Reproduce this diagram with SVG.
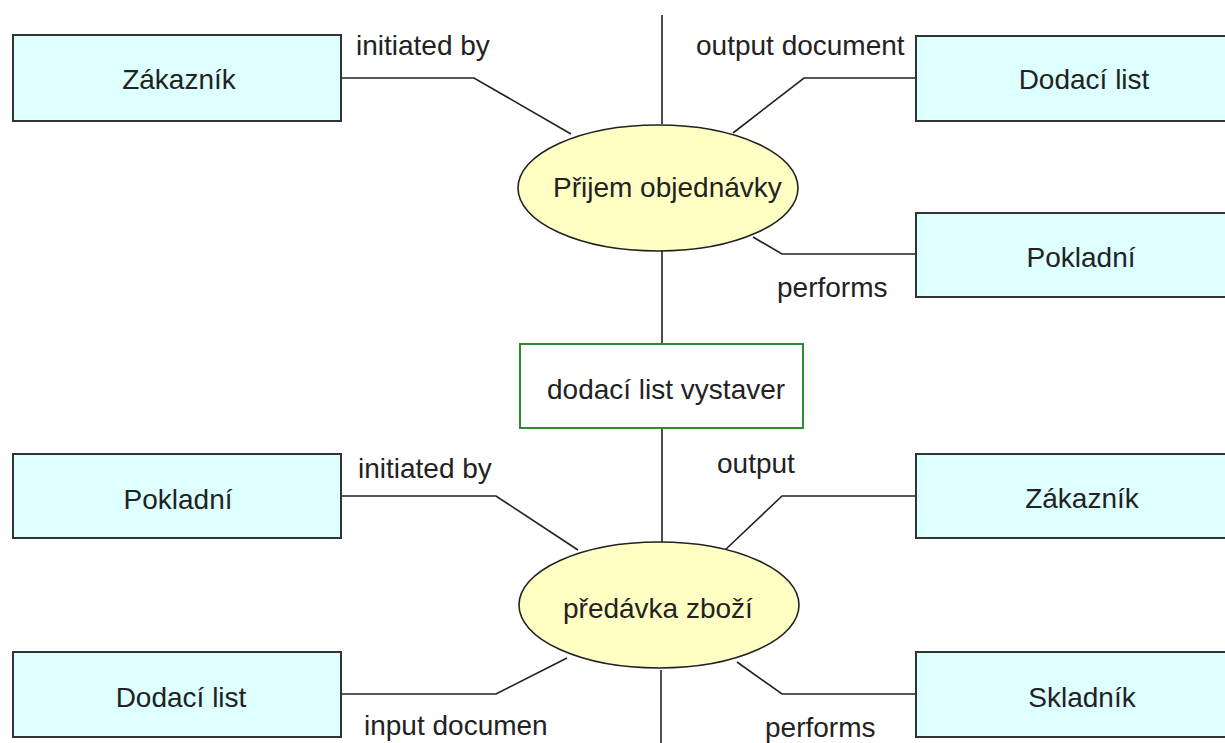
<svg xmlns="http://www.w3.org/2000/svg" width="1225" height="743" viewBox="0 0 1225 743">
  <style>
    .box { fill: #ddffff; stroke: #333333; stroke-width: 2; }
    .proc { fill: #ffffc4; stroke: #222222; stroke-width: 1.6; }
    .state { fill: #ffffff; stroke: #2e8b2e; stroke-width: 2; }
    .lbl { font-family: "Liberation Sans", Arial, sans-serif; font-size: 28px; fill: #222222; }
    .mid { text-anchor: middle; }
    .wire { fill: none; stroke: #222222; stroke-width: 1.6; }
  </style>
  <rect width="1225" height="743" fill="#ffffff"/>

  <!-- connectors -->
  <g id="connectors">
    <path class="wire" d="M662 15 V124"/>
    <path class="wire" d="M662 251 V344"/>
    <path class="wire" d="M662 428 V542"/>
    <path class="wire" d="M661 670 V743"/>
    <path class="wire" d="M341 78 H474 L571 134"/>
    <path class="wire" d="M916 78 H804 L733 133"/>
    <path class="wire" d="M916 254 H782 L753 237"/>
    <path class="wire" d="M341 496 H496 L578 550"/>
    <path class="wire" d="M341 694 H496 L567 658"/>
    <path class="wire" d="M916 496 H782 L725 550"/>
    <path class="wire" d="M916 694 H782 L737 662"/>
    <text class="lbl" x="356" y="55">initiated by</text>
    <text class="lbl" x="696" y="55">output document</text>
    <text class="lbl" x="777" y="297">performs</text>
    <text class="lbl" x="358" y="478">initiated by</text>
    <text class="lbl" x="717" y="473">output</text>
    <text class="lbl" x="364" y="735">input documen</text>
    <text class="lbl" x="765" y="737">performs</text>
  </g>

  <g id="zakaznik-top">
    <rect class="box" x="13" y="35" width="328" height="86"/>
    <text class="lbl mid" x="179" y="89">Zákazník</text>
  </g>
  <g id="dodaci-list-top">
    <rect class="box" x="916" y="36" width="328" height="85"/>
    <text class="lbl mid" x="1084" y="89">Dodací list</text>
  </g>
  <g id="prijem-objednavky">
    <ellipse class="proc" cx="658" cy="188" rx="140" ry="63"/>
    <text class="lbl" x="553" y="197">Přijem objednávky</text>
  </g>
  <g id="pokladni-top">
    <rect class="box" x="916" y="213" width="328" height="84"/>
    <text class="lbl mid" x="1081" y="267">Pokladní</text>
  </g>
  <g id="dodaci-list-vystaven">
    <rect class="state" x="520" y="344" width="283" height="84"/>
    <text class="lbl" x="547" y="399">dodací list vystaver</text>
  </g>
  <g id="pokladni-bottom">
    <rect class="box" x="13" y="454" width="328" height="84"/>
    <text class="lbl mid" x="178" y="509">Pokladní</text>
  </g>
  <g id="zakaznik-bottom">
    <rect class="box" x="916" y="454" width="328" height="84"/>
    <text class="lbl mid" x="1082" y="508">Zákazník</text>
  </g>
  <g id="predavka-zbozi">
    <ellipse class="proc" cx="659" cy="605" rx="140" ry="63"/>
    <text class="lbl" x="563" y="618">předávka zboží</text>
  </g>
  <g id="dodaci-list-bottom">
    <rect class="box" x="13" y="652" width="328" height="85"/>
    <text class="lbl mid" x="181" y="707">Dodací list</text>
  </g>
  <g id="skladnik">
    <rect class="box" x="916" y="652" width="328" height="85"/>
    <text class="lbl mid" x="1082" y="707">Skladník</text>
  </g>
</svg>
